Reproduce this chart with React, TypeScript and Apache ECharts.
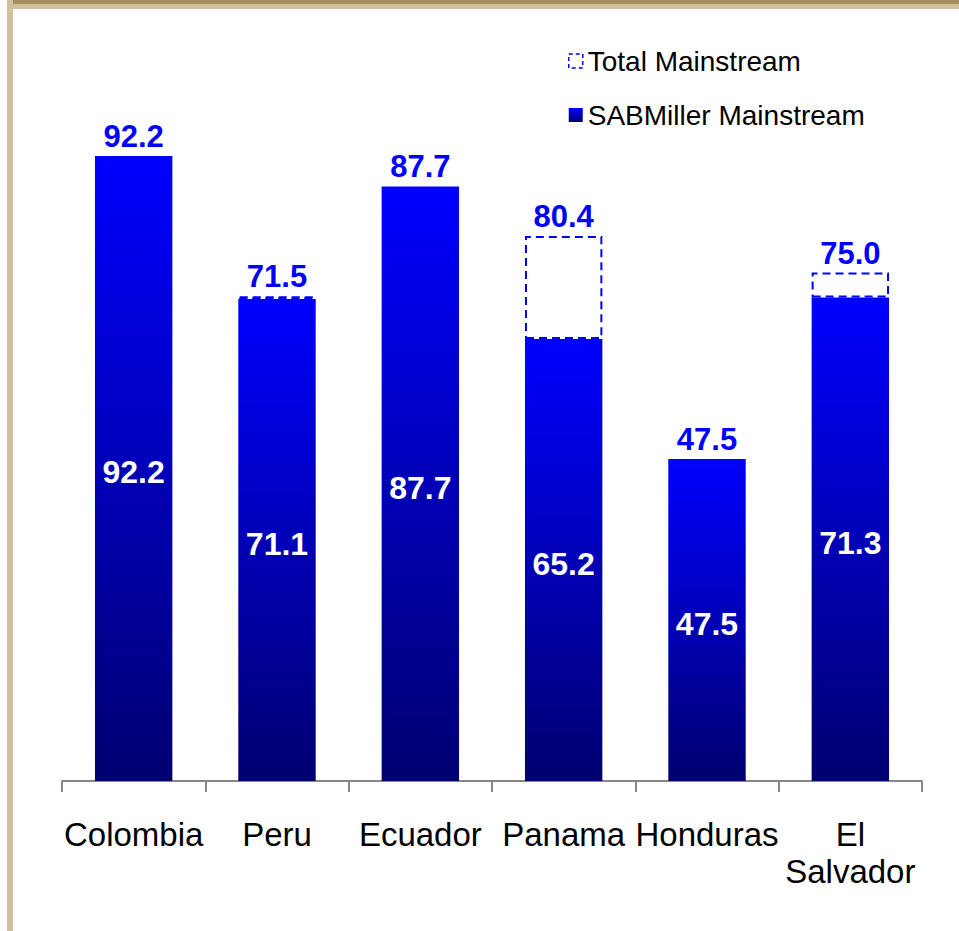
import React, { useEffect, useRef } from "react";
import * as echarts from "echarts";

const categories = ["Colombia", "Peru", "Ecuador", "Panama", "Honduras", "El\nSalvador"];
const sabMainstream = [92.2, 71.1, 87.7, 65.2, 47.5, 71.3];
const totalMainstream = [92.2, 71.5, 87.7, 80.4, 47.5, 75.0];

const FONT = "'Liberation Sans', Arial, Helvetica, sans-serif";

export default function App() {
  const ref = useRef<HTMLDivElement>(null);

  useEffect(() => {
    if (!ref.current) return;
    const chart = echarts.init(ref.current, undefined, { renderer: "svg" });

    const gradient = new echarts.graphic.LinearGradient(0, 0, 0, 1, [
      { offset: 0, color: "#0000ff" },
      { offset: 1, color: "#000070" },
    ]);

    const diffData = totalMainstream.map((t, i) => {
      const d = Math.round((t - sabMainstream[i]) * 10) / 10;
      return d > 0
        ? { value: d }
        : { value: d, itemStyle: { borderWidth: 0 } };
    });

    chart.setOption({
      animation: false,
      backgroundColor: "#ffffff",
      graphic: [
        { type: "rect", shape: { x: 7, y: 0, width: 952, height: 9 }, style: { fill: "#cfc19e" }, silent: true },
        { type: "rect", shape: { x: 13, y: 0, width: 946, height: 4 }, style: { fill: "#a68e5f" }, silent: true },
        { type: "rect", shape: { x: 7, y: 0, width: 6, height: 931 }, style: { fill: "#cfc19e" }, silent: true },
      ],
      legend: {
        orient: "vertical",
        left: 563,
        top: 42,
        itemWidth: 14,
        itemHeight: 14,
        itemGap: 26,
        icon: "rect",
        textStyle: { fontFamily: FONT, fontSize: 28, lineHeight: 28, color: "#000" },
        data: [
          {
            name: "Total Mainstream",
            itemStyle: { color: "rgba(0,0,0,0)", borderColor: "#0000ff", borderWidth: 1.5, borderType: [4, 3] },
          },
          { name: "SABMiller Mainstream" },
        ],
      },
      grid: { left: 62, right: 37, top: 103, bottom: 150, containLabel: false },
      xAxis: {
        type: "category",
        data: categories,
        axisLine: { lineStyle: { color: "#878787", width: 2 } },
        axisTick: { show: true, length: 11, alignWithLabel: false, lineStyle: { color: "#878787", width: 2 } },
        axisLabel: {
          interval: 0,
          margin: 35,
          fontFamily: FONT,
          fontSize: 33,
          lineHeight: 37,
          color: "#000",
        },
      },
      yAxis: {
        type: "value",
        min: 0,
        max: 100,
        show: false,
        splitLine: { show: false },
      },
      series: [
        {
          name: "SABMiller Mainstream",
          type: "bar",
          stack: "total",
          barWidth: "54%",
          data: sabMainstream,
          itemStyle: { color: gradient },
          label: {
            show: true,
            position: "inside",
            offset: [0, 4],
            color: "#ffffff",
            fontFamily: FONT,
            fontSize: 32,
            fontWeight: "bold",
            formatter: (p: any) => sabMainstream[p.dataIndex].toFixed(1),
          },
        },
        {
          name: "Total Mainstream",
          type: "bar",
          stack: "total",
          barWidth: "54%",
          data: diffData,
          itemStyle: {
            color: "rgba(0,0,0,0)",
            borderColor: "#0000ff",
            borderWidth: 2,
            borderType: [8, 5],
          },
          label: {
            show: true,
            position: "top",
            distance: 4,
            color: "#0000ff",
            fontFamily: FONT,
            fontSize: 31,
            lineHeight: 31,
            fontWeight: "bold",
            formatter: (p: any) => totalMainstream[p.dataIndex].toFixed(1),
          },
        },
      ],
    });

    return () => chart.dispose();
  }, []);

  return (
    <div
      ref={ref}
      style={{ position: "fixed", left: 0, top: 0, width: 959, height: 931 }}
    />
  );
}
